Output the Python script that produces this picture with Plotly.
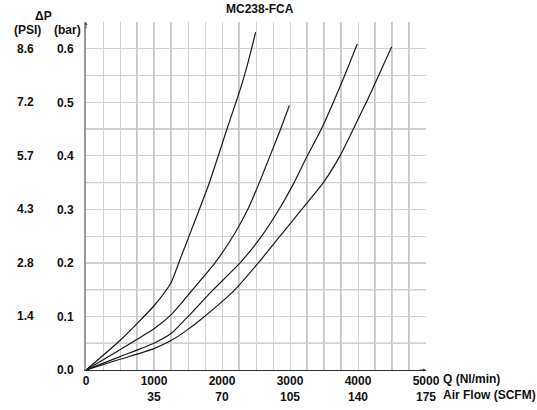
import plotly.graph_objects as go

# pressure drop curves (Q in Nl/min, dP in bar)
q_curve1 = [0, 500, 1000, 1250, 1378, 1470, 1588, 1809, 2078, 2275, 2390, 2495]
dp_curve1 = [0, 0.055, 0.12, 0.163, 0.205, 0.235, 0.274, 0.348, 0.452, 0.527, 0.578, 0.631]

q_curve2 = [0, 500, 1000, 1250, 1554, 1897, 2191, 2387, 2549, 2706, 2853, 2990]
dp_curve2 = [0, 0.038, 0.077, 0.103, 0.148, 0.2, 0.256, 0.302, 0.35, 0.4, 0.447, 0.494]

q_curve3 = [0, 500, 1000, 1250, 1456, 1872, 2265, 2583, 2853, 3060, 3255, 3461, 3735, 3990]
dp_curve3 = [0, 0.025, 0.05, 0.068, 0.094, 0.15, 0.2, 0.25, 0.303, 0.35, 0.4, 0.45, 0.529, 0.609]

q_curve4 = [0, 500, 1000, 1250, 1480, 1725, 2191, 2534, 2853, 3172, 3490, 3735, 3931, 4137, 4250, 4495]
dp_curve4 = [0, 0.02, 0.04, 0.055, 0.074, 0.098, 0.15, 0.2, 0.25, 0.3, 0.35, 0.4, 0.45, 0.504, 0.535, 0.604]

# axis ticks
q_ticks = [0, 1000, 2000, 3000, 4000, 5000]
q_labels = ["0", "1000", "2000", "3000", "4000", "5000"]
scfm_labels = ["", "35", "70", "105", "140", "175"]
bar_ticks = [0, 0.1, 0.2, 0.3, 0.4, 0.5, 0.6]
bar_labels = ["0.0", "0.1", "0.2", "0.3", "0.4", "0.5", "0.6"]
psi_labels = ["", "1.4", "2.8", "4.3", "5.7", "7.2", "8.6"]

# darker grid lines seen on the scan
dark_q = [750, 1000, 1250, 2250, 3250, 3500, 3750, 4250, 4500, 4750]
dark_dp = [0.05, 0.15, 0.2, 0.35, 0.45, 0.55]

FONT = "Liberation Sans, Arial, sans-serif"

fig = go.Figure()
for q, dp in [(q_curve1, dp_curve1), (q_curve2, dp_curve2),
              (q_curve3, dp_curve3), (q_curve4, dp_curve4)]:
    fig.add_trace(go.Scatter(
        x=q, y=dp, mode="lines",
        line=dict(color="#1a1a1a", width=1.2, shape="spline", smoothing=0.6),
        showlegend=False, hoverinfo="x+y"
    ))

shapes = []
for v in dark_q:
    shapes.append(dict(type="line", xref="x", yref="y", x0=v, x1=v, y0=0, y1=0.65,
                       line=dict(color="#8f8f8f", width=1), layer="below"))
for v in dark_dp:
    shapes.append(dict(type="line", xref="x", yref="y", x0=0, x1=5000, y0=v, y1=v,
                       line=dict(color="#8f8f8f", width=1), layer="below"))

x_text = [f"{a}<br>{b}" if b else a for a, b in zip(q_labels, scfm_labels)]

bold = dict(size=12, family=FONT, color="#111", weight="bold")

annotations = []
for v, t in zip(bar_ticks, psi_labels):
    if t:
        annotations.append(dict(xref="paper", yref="y", x=0, y=v, text=t, showarrow=False,
                                xanchor="center", xshift=-61, font=bold))
annotations += [
    dict(xref="paper", yref="paper", x=0.512, y=1, text="MC238-FCA", showarrow=False,
         xanchor="center", yanchor="middle", yshift=13, font=bold),
    dict(xref="paper", yref="paper", x=0, y=1, text="(PSI)", showarrow=False,
         xanchor="center", yanchor="middle", xshift=-59, yshift=-8, font=bold),
    dict(xref="paper", yref="paper", x=0, y=1, text="(bar)", showarrow=False,
         xanchor="center", yanchor="middle", xshift=-19, yshift=-8, font=bold),
    dict(xref="paper", yref="paper", x=0, y=1, text="\u0394P", showarrow=False,
         xanchor="center", yanchor="middle", xshift=-43, yshift=6, font=bold),
    dict(xref="x", yref="paper", x=5000, y=0, text="Q (Nl/min)<br>Air Flow (SCFM)",
         showarrow=False, xanchor="left", yanchor="top", align="left",
         xshift=15, yshift=0, font=bold),
    # axis arrow heads
    dict(xref="x", yref="y", x=5000, y=0, ax=-8, ay=0, text="", showarrow=True,
         arrowhead=2, arrowsize=0.6, arrowwidth=1, arrowcolor="#333"),
    dict(xref="x", yref="y", x=0, y=0.65, ax=0, ay=8, text="", showarrow=True,
         arrowhead=2, arrowsize=0.6, arrowwidth=1, arrowcolor="#555"),
]

fig.update_layout(
    width=537, height=410,
    margin=dict(l=86, r=111, t=22, b=40),
    paper_bgcolor="white", plot_bgcolor="white",
    xaxis=dict(
        range=[0, 5000], tickvals=q_ticks, ticktext=x_text, automargin=False,
        showgrid=True, gridcolor="#d2d2d2", gridwidth=1,
        minor=dict(dtick=250, showgrid=True, gridcolor="#d2d2d2", gridwidth=1),
        showline=True, linecolor="#333", linewidth=1, zeroline=False,
        ticks="", tickfont=bold, ticklabelstandoff=0,
    ),
    yaxis=dict(
        range=[0, 0.65], tickvals=bar_ticks, ticktext=bar_labels, automargin=False,
        showgrid=True, gridcolor="#d2d2d2", gridwidth=1,
        minor=dict(dtick=0.05, showgrid=True, gridcolor="#d2d2d2", gridwidth=1),
        showline=True, linecolor="#9a9a9a", linewidth=2, zeroline=False,
        ticks="", tickfont=bold, ticklabelstandoff=8,
    ),
    shapes=shapes,
    annotations=annotations,
)

# drop the default page margin so the figure sits at the window's corner
fig.write_html("out.html", config={"displayModeBar": False},
               post_script="document.body.style.margin='0';")
